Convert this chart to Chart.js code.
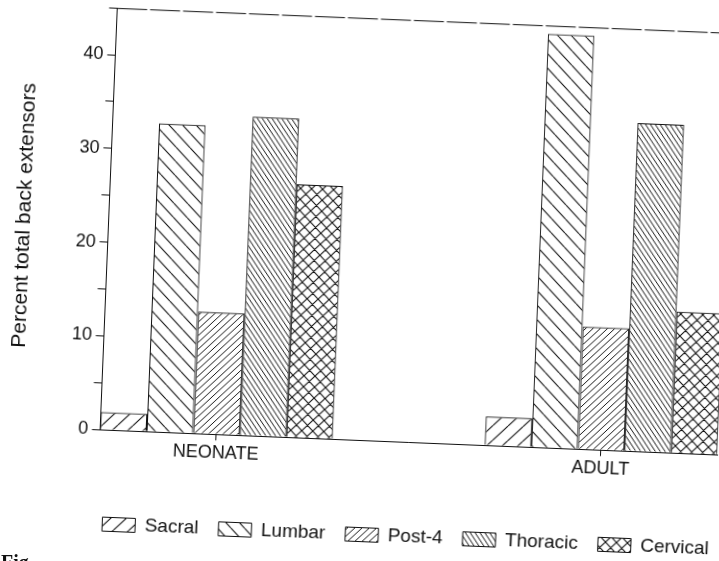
<!DOCTYPE html>
<html><head><meta charset="utf-8">
<script src="https://cdn.jsdelivr.net/npm/chart.js@4"></script>
<style>
html,body{margin:0;padding:0;background:#fff;overflow:hidden;width:719px;height:561px}
#c{position:absolute;left:0;top:0;transform-origin:0 0;transform:rotate(2.33deg)}
#fig{position:absolute;left:1px;top:552px;font-family:'Liberation Serif',serif;font-weight:bold;font-size:20px;line-height:20px;color:#111}
</style></head><body>
<canvas id="c" width="860" height="561"></canvas>
<div id="fig">Fig.</div>
<script>
const categories = ['NEONATE', 'ADULT'];
const seriesNames = ['Sacral', 'Lumbar', 'Post-4', 'Thoracic', 'Cervical'];
const sacral = [1.9, 3.1];
const lumbar = [32.9, 44.1];
const post4 = [13.0, 13.1];
const thoracic = [34.0, 35.0];
const cervical = [27.0, 15.1];
const yTickLabels = [0, 10, 20, 30, 40];

const seriesValues = [sacral, lumbar, post4, thoracic, cervical];
const canvas = document.getElementById('c');
const ctx = canvas.getContext('2d');

function hatch(w, h, dirs, lw) {
  const c = document.createElement('canvas');
  c.width = w; c.height = h;
  const g = c.getContext('2d');
  g.strokeStyle = '#111';
  g.lineWidth = lw || 1;
  g.beginPath();
  dirs.forEach(d => {
    for (let k = -1; k <= 1; k++) {
      if (d === '/') { g.moveTo(k * w, h); g.lineTo(k * w + w, 0); }
      else { g.moveTo(k * w, 0); g.lineTo(k * w + w, h); }
    }
  });
  g.stroke();
  return ctx.createPattern(c, 'repeat');
}
const patterns = [
  hatch(15, 15, ['/'], 1.1),
  hatch(14, 14, ['\\'], 1.1),
  hatch(7, 7, ['/'], 1),
  hatch(5, 7, ['\\'], 1),
  hatch(11, 11, ['/', '\\'], 1.1)
];

const frame = {
  id: 'frame',
  afterDraw(chart) {
    const a = chart.chartArea, c = chart.ctx;
    c.save();
    c.strokeStyle = '#111'; c.lineWidth = 1;
    c.setLineDash([30, 3]);
    c.beginPath();
    c.moveTo(a.left, a.top + 0.5);
    c.lineTo(chart.width, a.top + 0.5);
    c.stroke();
    c.restore();
  }
};

Chart.defaults.font.family = "'Liberation Sans', Arial, sans-serif";
Chart.defaults.color = '#111';

const groupFrac = 0.6054;

new Chart(ctx, {
  type: 'bar',
  data: {
    datasets: seriesNames.map((n, i) => ({
      label: n,
      data: seriesValues[i].map((v, j) => ({ x: j, y: v })),
      backgroundColor: patterns[i],
      borderColor: '#111',
      borderWidth: 1
    }))
  },
  plugins: [frame],
  options: {
    responsive: false,
    animation: false,
    devicePixelRatio: 1,
    layout: { padding: { left: 10, right: 16, top: 3.15, bottom: 22 } },
    datasets: { bar: { barPercentage: 1, categoryPercentage: groupFrac } },
    plugins: {
      legend: {
        position: 'bottom',
        labels: { boxWidth: 33, boxHeight: 14, padding: 20, color: '#111', font: { size: 19 } }
      },
      tooltip: { enabled: false }
    },
    scales: {
      x: {
        type: 'linear',
        offset: false,
        min: -groupFrac / 2,
        max: categories.length - 1 + groupFrac / 2,
        afterBuildTicks: s => { s.ticks = categories.map((c, i) => ({ value: i })); },
        afterFit: s => { s.height = 64.7; s.paddingLeft = 0; s.paddingRight = 0; },
        grid: { display: true, offset: false, drawOnChartArea: false, drawTicks: true, tickLength: 6, color: '#111' },
        border: { display: true, color: '#111', width: 1 },
        ticks: { autoSkip: false, maxRotation: 0, padding: 2, color: '#111', font: { size: 18 },
          callback: v => categories[v] }
      },
      y: {
        min: 0, max: 45,
        afterFit: s => { s.width = 107.4; s.paddingTop = 0; s.paddingBottom = 0; },
        ticks: { stepSize: 5, autoSkip: false, padding: 4, color: '#111', font: { size: 18 },
          callback: v => yTickLabels.includes(v) ? String(v) : '' },
        grid: { drawOnChartArea: false, drawTicks: true, tickLength: 8, color: '#111' },
        border: { display: true, dash: [20, 4], color: '#111', width: 1 },
        title: { display: true, text: 'Percent total back extensors', color: '#111',
          font: { size: 21 }, padding: { top: 11, bottom: 0 } }
      },
      yRight: {
        position: 'right',
        display: true,
        afterFit: s => { s.width = 108.7; s.paddingTop = 0; s.paddingBottom = 0; },
        grid: { display: false, drawTicks: false },
        ticks: { display: false },
        border: { display: false }
      }
    }
  }
});
</script>
</body></html>
